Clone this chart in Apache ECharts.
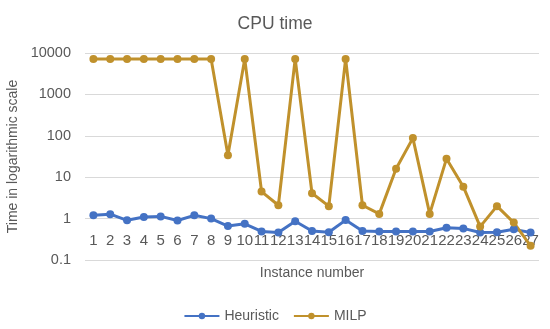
<!DOCTYPE html>
<html><head><meta charset="utf-8">
<script src="https://cdn.jsdelivr.net/npm/echarts@6/dist/echarts.min.js"></script>
<style>html,body{margin:0;padding:0;background:#fff}#c{width:550px;height:329px}</style>
</head><body><div id="c"></div>
<script>
const categories = ['1','2','3','4','5','6','7','8','9','10','11','12','13','14','15','16','17','18','19','20','21','22','23','24','25','26','27'];
const heuristic = [1.2,1.28,0.91,1.09,1.13,0.9,1.2,1.0,0.66,0.75,0.49,0.46,0.86,0.5,0.47,0.92,0.5,0.49,0.49,0.49,0.49,0.6,0.58,0.46,0.47,0.55,0.46];
const milp = [7200,7200,7200,7200,7200,7200,7200,7200,34,7200,4.5,2.1,7200,4.1,2.0,7200,2.1,1.3,16,88,1.3,28,5.9,0.64,2.0,0.8,0.22];
const yTicks = [0.1,1,10,100,1000,10000];

const txt = '#595959';
const font = 'Liberation Sans';
const chart = echarts.init(document.getElementById('c'));
chart.setOption({
  animation:false,
  textStyle:{fontFamily:font},
  title:{text:'CPU time',left:'center',top:10,textStyle:{fontSize:17.5,fontWeight:'normal',color:txt,fontFamily:font}},
  grid:{left:85,right:11,top:53,bottom:69,containLabel:false,outerBoundsMode:'none'},
  legend:{bottom:1,left:'center',itemWidth:35,itemHeight:8,itemGap:14,
    textStyle:{fontSize:14,color:txt,fontFamily:font},data:['Heuristic','MILP']},
  xAxis:{type:'category',data:categories,boundaryGap:true,offset:-41,
    axisLine:{show:false},axisTick:{show:false},
    axisLabel:{interval:0,fontSize:15,color:txt,margin:14,fontFamily:font},
    name:'Instance number',nameLocation:'middle',nameGap:47,
    nameTextStyle:{fontSize:14,color:txt,fontFamily:font}},
  yAxis:{type:'log',logBase:10,min:0.1,max:10000,
    axisLine:{show:false},axisTick:{show:false},
    splitLine:{lineStyle:{color:'#D9D9D9',width:1}},
    axisLabel:{fontSize:14.5,color:txt,margin:14,fontFamily:font,
      formatter:v=>{const t=yTicks.find(x=>Math.abs(Math.log10(x)-Math.log10(v))<0.01);return t!==undefined?String(t):'';}},
    name:'Time in logarithmic scale',nameLocation:'middle',nameGap:62,
    nameTextStyle:{fontSize:14,color:txt,fontFamily:font}},
  series:[
    {name:'Heuristic',type:'line',data:heuristic,symbol:'circle',symbolSize:8,
      lineStyle:{width:3,color:'#4472C4'},itemStyle:{color:'#4472C4'}},
    {name:'MILP',type:'line',data:milp,symbol:'circle',symbolSize:8,
      lineStyle:{width:3,color:'#C0912C'},itemStyle:{color:'#C0912C'}}
  ]
});
</script></body></html>
